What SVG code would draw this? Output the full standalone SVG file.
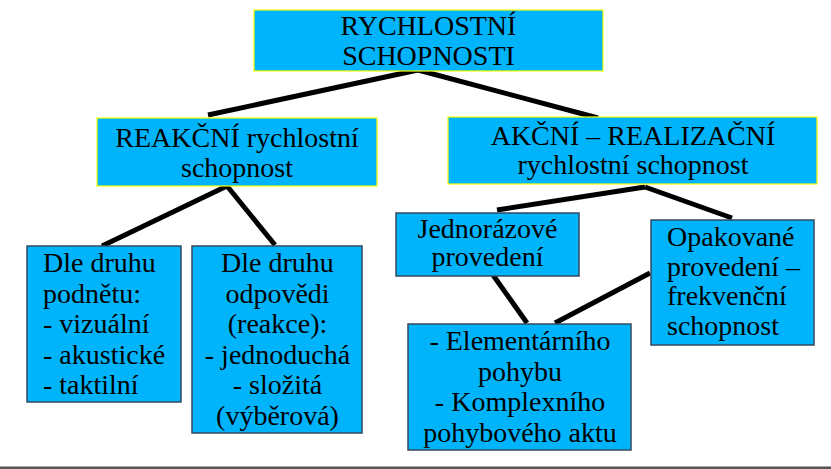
<svg xmlns="http://www.w3.org/2000/svg" width="831" height="469" viewBox="0 0 831 469">
<style>
.top{fill:#00B4FC;stroke:#FFFF00;stroke-width:1.2}
.sub{fill:#00B4FC;stroke:#34495C;stroke-width:1.5}
.t text{font-family:'Liberation Serif','DejaVu Serif',serif;font-size:28px;fill:#000}
.c{text-anchor:middle}
.con line{stroke:#000;stroke-width:5;stroke-linecap:butt}
</style>
<rect width="831" height="469" fill="#fff"/>
<g class="con" id="connectors">
<line x1="418" y1="70" x2="208" y2="115"/>
<line x1="418" y1="70" x2="598" y2="118"/>
<line x1="227" y1="186" x2="102" y2="246"/>
<line x1="227" y1="186" x2="275" y2="245"/>
<line x1="645" y1="187" x2="497" y2="210"/>
<line x1="645" y1="187" x2="732" y2="218"/>
<line x1="493" y1="275" x2="527" y2="323"/>
<line x1="650" y1="273" x2="555" y2="323"/>
</g>
<g class="t" font-family="Liberation Serif, serif">
<g id="root">
<rect class="top" x="254" y="10" width="349" height="61"/>
<text class="c" x="428.5" y="35">RYCHLOSTNÍ</text>
<text class="c" x="428.5" y="65">SCHOPNOSTI</text>
</g>
<g id="reakcni">
<rect class="top" x="97" y="118" width="280" height="68"/>
<text class="c" x="237" y="147">REAKČNÍ rychlostní</text>
<text class="c" x="237" y="177">schopnost</text>
</g>
<g id="akcni">
<rect class="top" x="448" y="117" width="369" height="67"/>
<text class="c" x="633" y="145">AKČNÍ – REALIZAČNÍ</text>
<text class="c" x="633" y="174">rychlostní schopnost</text>
</g>
<g id="podnet">
<rect class="sub" x="27" y="246" width="154" height="156"/>
<text x="43" y="272">Dle druhu</text>
<text x="43" y="302.5">podnětu:</text>
<text x="43" y="333">- vizuální</text>
<text x="43" y="363.5">- akustické</text>
<text x="43" y="394">- taktilní</text>
</g>
<g id="odpoved">
<rect class="sub" x="192" y="246" width="170" height="187"/>
<text class="c" x="277.5" y="272">Dle druhu</text>
<text class="c" x="277.5" y="302.5">odpovědi</text>
<text class="c" x="277.5" y="333">(reakce):</text>
<text class="c" x="277.5" y="363.5">- jednoduchá</text>
<text class="c" x="277.5" y="394">- složitá</text>
<text class="c" x="277.5" y="424.5">(výběrová)</text>
</g>
<g id="jednorazove">
<rect class="sub" x="396" y="213" width="183" height="63"/>
<text class="c" x="487.5" y="238">Jednorázové</text>
<text class="c" x="487.5" y="266">provedení</text>
</g>
<g id="opakovane">
<rect class="sub" x="651" y="220" width="163" height="125"/>
<text x="667" y="246">Opakované</text>
<text x="667" y="275.5">provedení –</text>
<text x="667" y="305">frekvenční</text>
<text x="667" y="334.5">schopnost</text>
</g>
<g id="elementarni">
<rect class="sub" x="408" y="324" width="223" height="126"/>
<text class="c" x="520" y="350">- Elementárního</text>
<text class="c" x="520" y="380.5">pohybu</text>
<text class="c" x="520" y="411">- Komplexního</text>
<text class="c" x="520" y="441.5">pohybového aktu</text>
</g>
</g>
<rect x="0" y="466.5" width="831" height="2.5" fill="#555"/>
</svg>
